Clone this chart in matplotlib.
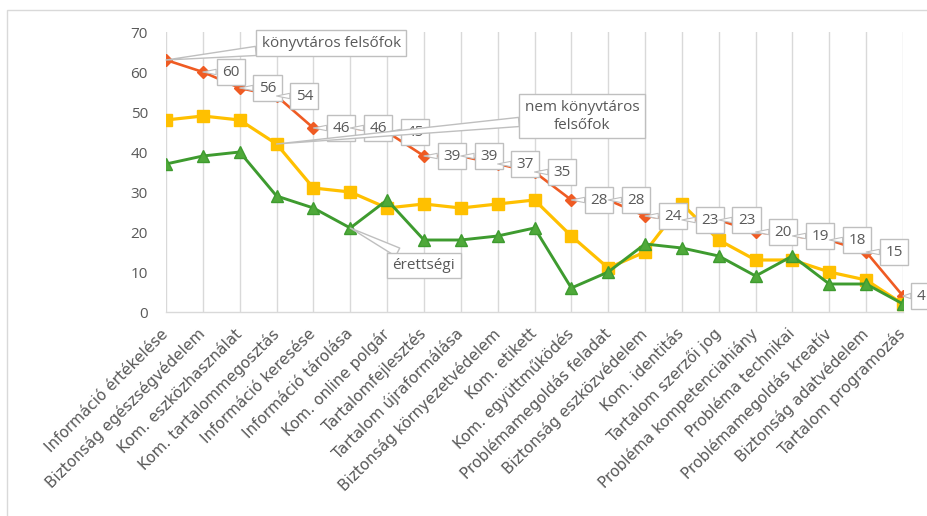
#!/usr/bin/python3
from matplotlib import pyplot as plt
import matplotlib.patches as mpatches
import numpy as np

categories = [
    "Információ értékelése", "Biztonság egészségvédelem", "Kom. eszközhasználat",
    "Kom. tartalommegosztás", "Információ keresése", "Információ tárolása",
    "Kom. online polgár", "Tartalomfejlesztés", "Tartalom újraformálása",
    "Biztonság környezetvédelem", "Kom. etikett", "Kom. együttműködés",
    "Problémamegoldás feladat", "Biztonság eszközvédelem", "Kom. identitás",
    "Tartalom szerzői jog", "Probléma kompetenciahiány", "Probléma technikai",
    "Problémamegoldás kreatív", "Biztonság adatvédelem", "Tartalom programozás",
]
konyvtaros = [63, 60, 56, 54, 46, 46, 45, 39, 39, 37, 35, 28, 28, 24, 23, 23, 20, 19, 18, 15, 4]
nem_konyvtaros = [48, 49, 48, 42, 31, 30, 26, 27, 26, 27, 28, 19, 11, 15, 27, 18, 13, 13, 10, 8, 2]
erettsegi = [37, 39, 40, 29, 26, 21, 28, 18, 18, 19, 21, 6, 10, 17, 16, 14, 9, 14, 7, 7, 2]
y_ticks = [0, 10, 20, 30, 40, 50, 60, 70]

TXT = '#595959'
GRID = '#D9D9D9'
BOX_EC = '#BFBFBF'
LBL_FONT = ['Open Sans', 'DejaVu Sans']

fig = plt.figure(figsize=(9.27, 5.16), dpi=100)
fig.patch.set_facecolor('white')
# chart area border (cropped on the right)
fig.patches.append(mpatches.Rectangle((7 / 927, -0.01), 1.0, (506 / 516) + 0.01,
                                      transform=fig.transFigure, fill=False,
                                      ec=GRID, lw=1.0))

ax = fig.add_axes([166 / 927, 1 - 312 / 516, (903 - 166) / 927, (312 - 32) / 516])
x = np.arange(len(categories))

ax.plot(x, konyvtaros, color='#EF5B23', lw=1.9, marker='D', ms=6,
        mfc='#EF5B23', mec='#EF5B23', zorder=3)
ax.plot(x, nem_konyvtaros, color='#FFC000', lw=2.3, marker='s', ms=8.5,
        mfc='#FFC000', mec='#FFC000', zorder=4)
ax.plot(x, erettsegi, color='#3E9B2F', lw=2.1, marker='^', ms=9,
        mfc='#4FA93A', mec='#3E9B2F', zorder=5)

ax.set_xlim(0, len(categories) - 1)
ax.set_ylim(0, 70)
ax.set_yticks(y_ticks)
ax.set_xticks(x)
ax.set_xticklabels(categories, rotation=45, ha='right', va='center',
                   rotation_mode='anchor', fontsize=11, color=TXT,
                   family='DejaVu Sans')
for lab in ax.get_yticklabels():
    lab.set_family(LBL_FONT)
    lab.set_fontsize(11)
    lab.set_color(TXT)
ax.tick_params(axis='x', length=0, pad=14)
ax.tick_params(axis='y', length=0, pad=13)
ax.xaxis.grid(True, color=GRID, lw=1.0)
ax.set_axisbelow(True)
for side in ['top', 'right', 'left']:
    ax.spines[side].set_visible(False)
ax.spines['bottom'].set_color(GRID)
ax.spines['bottom'].set_linewidth(1.0)

box = dict(boxstyle='square,pad=0.35', fc='white', ec=BOX_EC, lw=1.0)

# value callouts for the librarian series
last = len(konyvtaros) - 1
for i, v in enumerate(konyvtaros):
    if i == 0:
        continue
    dx = 13 if i == last else 20  # keep the last one inside the picture
    ax.annotate(str(v), xy=(i, v), xytext=(dx, 0), textcoords='offset points',
                ha='center', va='center', fontsize=11, color=TXT, family=LBL_FONT,
                bbox=box, annotation_clip=False, zorder=10,
                arrowprops=dict(arrowstyle='wedge,tail_width=0.35', fc='white',
                                ec=BOX_EC, lw=0.8, shrinkA=0, shrinkB=0))

# series name callouts
series_labels = [
    ("könyvtáros felsőfok", 0, konyvtaros[0], (119, 12)),
    ("nem könyvtáros\nfelsőfok", 3, nem_konyvtaros[3], (220, 20)),
    ("érettségi", 5, erettsegi[5], (53, -27)),
]
for txt, i, v, off in series_labels:
    ax.annotate(txt, xy=(i, v), xytext=off, textcoords='offset points',
                ha='center', va='center', fontsize=11, color=TXT, family=LBL_FONT,
                bbox=dict(boxstyle='square,pad=0.35', fc='white', ec=BOX_EC, lw=1.0),
                annotation_clip=False, zorder=11, linespacing=1.3,
                arrowprops=dict(arrowstyle='wedge,tail_width=0.6', fc='white',
                                ec=BOX_EC, lw=1.0, shrinkA=0, shrinkB=0))

fig.savefig('out.png', dpi=100)
